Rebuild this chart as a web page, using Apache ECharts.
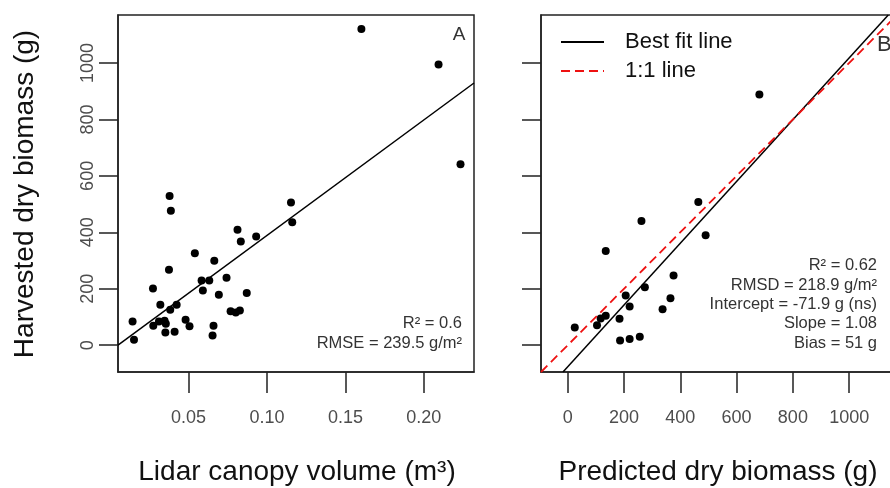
<!DOCTYPE html>
<html>
<head>
<meta charset="utf-8">
<script src="https://cdn.jsdelivr.net/npm/echarts@6/dist/echarts.min.js"></script>
<style>
html, body { margin: 0; padding: 0; background: #fff; }
#main { width: 890px; height: 488px; }
</style>
</head>
<body>
<div id="main"></div>
<script>
// panel A : lidar canopy volume (m3) vs harvested dry biomass (g)
var volA = [0.0143, 0.0152, 0.0379, 0.0387, 0.0273, 0.0320, 0.0375, 0.0383, 0.0424, 0.0275,
            0.0311, 0.0347, 0.0355, 0.0352, 0.0411, 0.0540, 0.0664, 0.0583, 0.0632, 0.0591,
            0.0481, 0.0506, 0.0659, 0.0653, 0.0693, 0.0742, 0.0812, 0.0833, 0.0931, 0.0871,
            0.0768, 0.0801, 0.0827, 0.1153, 0.1161, 0.1602, 0.2094, 0.2234];
var bioA = [84, 19, 529, 476, 201, 143, 267, 126, 143, 69,
            84, 87, 76, 45, 48, 326, 299, 229, 229, 194,
            90, 67, 69, 34, 179, 239, 409, 367, 385, 185,
            120, 116, 123, 506, 436, 1120, 995, 641];
// best fit line of A, read at the box edges
var fitAx = [0.005, 0.232];
var fitAy = [0, 929];

// panel B : predicted vs harvested
var predB = [681, 464, 490, 262, 135, 376, 274, 206, 365, 220,
             337, 135, 117, 184, 104, 25, 186, 220, 256];
var obsB = [888, 507, 390, 440, 334, 247, 205, 176, 166, 137,
            127, 104, 95, 94, 71, 63, 17, 22, 30];
var fitBx = [-17, 1139];
var fitBy = [-95, 1170];
var oneX = [-95, 1170];
var oneY = [-95, 1170];

var yTicks = [0, 200, 400, 600, 800, 1000];
var xTicksA = [0.05, 0.10, 0.15, 0.20];
var xTicksB = [0, 200, 400, 600, 800, 1000];
var statsA = ['R\u00b2 = 0.6', 'RMSE = 239.5 g/m\u00b2'];
var statsB = ['R\u00b2 = 0.62', 'RMSD = 218.9 g/m\u00b2', 'Intercept = -71.9 g (ns)', 'Slope = 1.08', 'Bias = 51 g'];

var FONT = '"Liberation Sans", Arial, sans-serif';
var INK = '#222';

function pairs(xs, ys) {
	return xs.map(function (v, i) { return [v, ys[i]]; });
}

function xAxisOf(grid, min, max, ticks, fmt) {
	return {
		type: 'value', gridIndex: grid, min: min, max: max,
		axisLine: { show: true, onZero: false, lineStyle: { color: INK, width: 1.5 } },
		axisTick: { show: true, length: 21, customValues: ticks, lineStyle: { color: INK, width: 1.5 } },
		axisLabel: { customValues: ticks, margin: 37, fontSize: 18, color: '#4d4d4d', fontFamily: FONT, formatter: fmt },
		splitLine: { show: false }
	};
}

function yAxisOf(grid, showLabels) {
	return {
		type: 'value', gridIndex: grid, min: -95, max: 1170,
		axisLine: { show: true, onZero: false, lineStyle: { color: INK, width: 1.5 } },
		axisTick: { show: true, length: 19, customValues: yTicks, lineStyle: { color: INK, width: 1.5 } },
		axisLabel: { show: showLabels, customValues: yTicks, rotate: 90, margin: 21, fontSize: 18, color: '#4d4d4d', fontFamily: FONT,
			formatter: function (v) { return String(v); } },
		splitLine: { show: false }
	};
}

var chart = echarts.init(document.getElementById('main'));

var option = {
	animation: false,
	backgroundColor: '#fff',
	grid: [
		{ left: 118, top: 15, width: 356, height: 357, show: true, borderColor: INK, borderWidth: 1.5, outerBoundsMode: 'none' },
		{ left: 541, top: 15, width: 356, height: 357, show: true, borderColor: INK, borderWidth: 1.5, outerBoundsMode: 'none' }
	],
	xAxis: [
		xAxisOf(0, 0.005, 0.232, xTicksA, function (v) { return v.toFixed(2); }),
		xAxisOf(1, -95, 1170, xTicksB, function (v) { return String(v); })
	],
	yAxis: [yAxisOf(0, true), yAxisOf(1, false)],
	legend: {
		left: 560, top: 31, orient: 'vertical', padding: 0,
		itemWidth: 43, itemHeight: 14, itemGap: 7,
		selectedMode: false,
		itemStyle: { opacity: 0 },
		data: ['Best fit line', '1:1 line'],
		textStyle: { fontSize: 22, lineHeight: 22, color: '#111', fontFamily: FONT, padding: [0, 0, 0, 16] }
	},
	series: [
		{
			type: 'scatter', xAxisIndex: 0, yAxisIndex: 0,
			symbolSize: 8, itemStyle: { color: '#000', opacity: 1 },
			data: pairs(volA, bioA)
		},
		{
			type: 'line', xAxisIndex: 0, yAxisIndex: 0, symbol: 'none',
			lineStyle: { color: '#000', width: 1.5 },
			data: pairs(fitAx, fitAy)
		},
		{
			type: 'scatter', xAxisIndex: 1, yAxisIndex: 1,
			symbolSize: 8, itemStyle: { color: '#000', opacity: 1 },
			data: pairs(predB, obsB)
		},
		{
			name: 'Best fit line',
			type: 'line', xAxisIndex: 1, yAxisIndex: 1, symbol: 'none',
			itemStyle: { color: '#000' },
			lineStyle: { color: '#000', width: 1.5 },
			data: pairs(fitBx, fitBy)
		},
		{
			name: '1:1 line',
			type: 'line', xAxisIndex: 1, yAxisIndex: 1, symbol: 'none',
			itemStyle: { color: '#ee1111' },
			lineStyle: { color: '#ee1111', width: 1.8, type: [9, 5] },
			data: pairs(oneX, oneY)
		}
	],
	graphic: [
		{ type: 'text', x: 25, y: 194, rotation: Math.PI / 2,
		  style: { text: 'Harvested dry biomass (g)', fontSize: 28, fontFamily: FONT, fill: '#111', align: 'center', verticalAlign: 'middle', textAlign: 'center', textVerticalAlign: 'middle' } },
		{ type: 'text', x: 297, y: 472,
		  style: { text: 'Lidar canopy volume (m\u00b3)', fontSize: 28, fontFamily: FONT, fill: '#111', align: 'center', verticalAlign: 'middle', textAlign: 'center', textVerticalAlign: 'middle' } },
		{ type: 'text', x: 718, y: 472,
		  style: { text: 'Predicted dry biomass (g)', fontSize: 28, fontFamily: FONT, fill: '#111', align: 'center', verticalAlign: 'middle', textAlign: 'center', textVerticalAlign: 'middle' } },
		{ type: 'text', x: 459, y: 35,
		  style: { text: 'A', fontSize: 19, fontFamily: FONT, fill: '#333', align: 'center', verticalAlign: 'middle', textAlign: 'center', textVerticalAlign: 'middle' } },
		{ type: 'text', x: 877, y: 45,
		  style: { text: 'B', fontSize: 22, fontFamily: FONT, fill: '#333', align: 'left', verticalAlign: 'middle', textAlign: 'left', textVerticalAlign: 'middle' } },
		{ type: 'text', x: 462, y: 333,
		  style: { text: statsA.join('\n'), fontSize: 16.5, lineHeight: 20, fontFamily: FONT, fill: '#333', align: 'right', verticalAlign: 'middle', textAlign: 'right', textVerticalAlign: 'middle' } },
		{ type: 'text', x: 877, y: 304.5,
		  style: { text: statsB.join('\n'), fontSize: 16.5, lineHeight: 19.3, fontFamily: FONT, fill: '#333', align: 'right', verticalAlign: 'middle', textAlign: 'right', textVerticalAlign: 'middle' } }
	]
};

chart.setOption(option);
</script>
</body>
</html>
